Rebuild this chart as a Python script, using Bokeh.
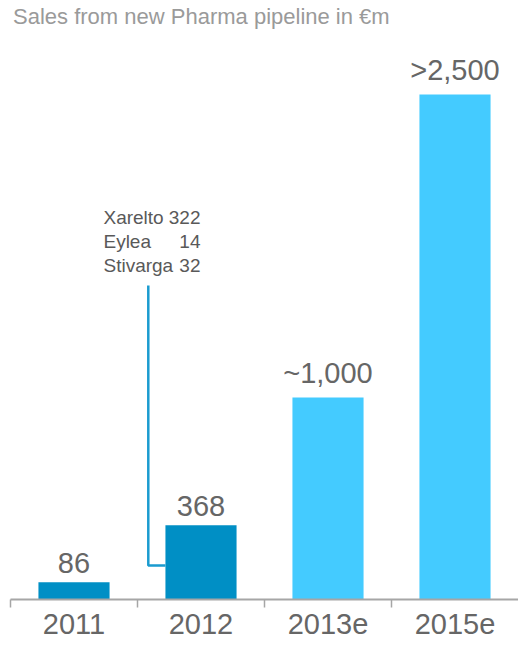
from bokeh.plotting import figure
from bokeh.models import Range1d, FixedTicker, ColumnDataSource
from bokeh.core.properties import value
from bokeh.embed import file_html
from bokeh.resources import INLINE

# ---- data ----
title = "Sales from new Pharma pipeline in €m"
categories = ["2011", "2012", "2013e", "2015e"]
sales = [86, 368, 1000, 2500]
sales_labels = ["86", "368", "~1,000", ">2,500"]
bar_colors = ["#008FC5", "#008FC5", "#44CBFF", "#44CBFF"]
products = ["Xarelto", "Eylea", "Stivarga"]
product_sales = ["322", "14", "32"]

FONT = "Liberation Sans"
GREY_TEXT = "#666666"
AXIS_GREY = "#A6A6A6"

n = len(categories)
centers = [i + 0.5 for i in range(n)]
bar_w = 0.56

frame_w = 508
frame_h = 599
px_per_unit = 0.202

p = figure(
    frame_width=frame_w, frame_height=frame_h,
    x_range=Range1d(0, n),
    y_range=Range1d(0, frame_h / px_per_unit),
    output_backend="svg", toolbar_location=None,
    min_border_left=10, min_border_right=0, min_border_top=0, min_border_bottom=47,
    outline_line_color=None,
)
p.yaxis.visible = False
p.xgrid.visible = False
p.ygrid.visible = False
p.background_fill_color = "white"
p.border_fill_color = "white"

src = ColumnDataSource(dict(x=centers, top=sales, label=sales_labels, color=bar_colors))
p.vbar(x="x", top="top", width=bar_w, color="color", line_color=None, source=src)
p.text(x="x", y="top", text="label", source=src, text_align="center",
       text_baseline="bottom", y_offset=-9,
       text_font=value(FONT), text_font_size="29px", text_color=GREY_TEXT)

# x axis
ax = p.xaxis[0]
ax.ticker = FixedTicker(ticks=centers, minor_ticks=list(range(n)))
ax.major_label_overrides = {c: lab for c, lab in zip(centers, categories)}
ax.major_tick_line_color = None
ax.major_tick_out = 8
ax.major_tick_in = 0
ax.minor_tick_line_color = AXIS_GREY
ax.minor_tick_line_width = 1.5
ax.minor_tick_out = 8
ax.minor_tick_in = 0
ax.axis_line_color = AXIS_GREY
ax.axis_line_width = 2
ax.major_label_standoff = 6
ax.major_label_text_font = FONT
ax.major_label_text_font_size = "29px"
ax.major_label_text_color = GREY_TEXT

# callout for 2012 bar
bar_left = centers[1] - bar_w / 2
line_x = bar_left - 0.135
line_top = 1554
line_bot = 168
p.line(x=[line_x, line_x, bar_left], y=[line_top, line_bot, line_bot],
       line_color="#1A9BCF", line_width=2.5)

text_left = 0.732
text_right = 1.496
ys = [1891, 1772, 1653]
p.text(x=[text_left] * 3, y=ys, text=products, text_align="left", text_baseline="middle",
       text_font=value(FONT), text_font_size="19px", text_color="#595959")
p.text(x=[text_right] * 3, y=ys, text=product_sales, text_align="right", text_baseline="middle",
       text_font=value(FONT), text_font_size="19px", text_color="#595959")

# title
p.text(x=[0.02], y=[frame_h / px_per_unit], text=[title], text_align="left",
       text_baseline="top", y_offset=3,
       text_font=value(FONT), text_font_size="22px", text_color="#9A9A9A")

open("out.html", "w").write(file_html(p, INLINE))
